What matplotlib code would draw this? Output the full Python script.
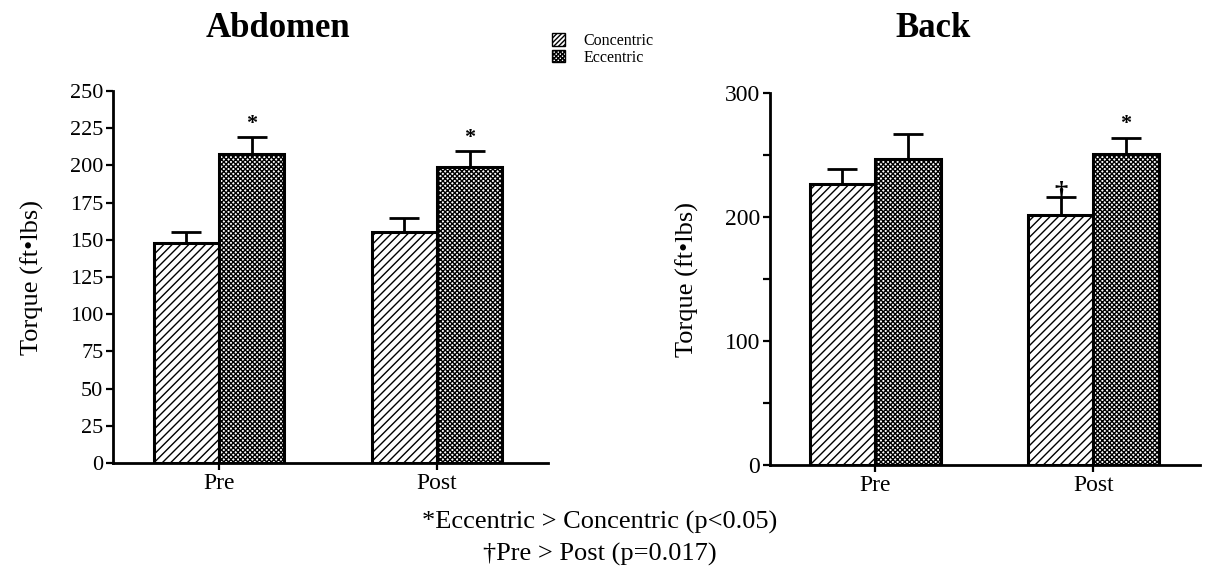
import matplotlib
matplotlib.use("Agg")
import matplotlib.pyplot as plt
import matplotlib.patches as mpatches
import numpy as np

plt.rcParams.update({
    "font.family": "Liberation Serif",
    "hatch.linewidth": 1.0,
})

# Data
phases = ["Pre", "Post"]
abd_conc = [148, 155]
abd_conc_err = [7, 10]
abd_ecc = [208, 199]
abd_ecc_err = [11, 11]
back_conc = [227, 202]
back_conc_err = [12, 14]
back_ecc = [247, 251]
back_ecc_err = [20, 13]

W = 0.3
CONC_HATCH = "////"
ECC_HATCH = "xxxxxxx"


def panel(ax, conc, conc_err, ecc, ecc_err, tick_size):
    x = np.arange(len(phases))
    ax.bar(x - W / 2, conc, W, color="white", edgecolor="black", hatch=CONC_HATCH,
           linewidth=2.2, zorder=3)
    ax.bar(x + W / 2, ecc, W, color="white", edgecolor="black", hatch=ECC_HATCH,
           linewidth=2.2, zorder=3)
    ax.errorbar(x - W / 2, conc, yerr=[np.zeros(len(conc)), conc_err], fmt="none",
                ecolor="black", elinewidth=2, capsize=11, capthick=2, zorder=2)
    ax.errorbar(x + W / 2, ecc, yerr=[np.zeros(len(ecc)), ecc_err], fmt="none",
                ecolor="black", elinewidth=2, capsize=11, capthick=2, zorder=2)
    ax.set_xticks(x)
    ax.set_xticklabels(phases, fontsize=17)
    for s in ("top", "right"):
        ax.spines[s].set_visible(False)
    for s in ("left", "bottom"):
        ax.spines[s].set_linewidth(2)
    ax.tick_params(axis="both", which="both", direction="out", length=5, width=1.6,
                   pad=2)
    ax.tick_params(axis="y", labelsize=tick_size)
    ax.set_ylabel("Torque (ft\u2022lbs)", fontsize=19, labelpad=19)
    return x


fig = plt.figure(figsize=(12.06, 5.82), dpi=100)

# Abdomen
ax1 = fig.add_axes([0.0937, 0.2045, 0.3607, 0.639])
x = panel(ax1, abd_conc, abd_conc_err, abd_ecc, abd_ecc_err, 16)
ax1.set_xlim(-0.486, 1.509)
ax1.set_ylim(0, 250)
ax1.set_yticks(np.arange(0, 251, 25))
for i in range(len(phases)):
    ax1.text(x[i] + W / 2, abd_ecc[i] + abd_ecc_err[i] + 2, "*", ha="center",
             va="bottom", fontsize=16, fontweight="bold")
fig.text(0.2305, 1 - 37 / 582, "Abdomen", ha="center", va="baseline", fontsize=25,
         fontweight="bold")

# Back
ax2 = fig.add_axes([0.6385, 0.201, 0.3566, 0.639])
x = panel(ax2, back_conc, back_conc_err, back_ecc, back_ecc_err, 17)
ax2.set_xlim(-0.482, 1.49)
ax2.set_ylim(0, 300)
ax2.set_yticks([0, 100, 200, 300])
ax2.set_yticks([50, 150, 250], minor=True)
ax2.text(x[1] + W / 2, back_ecc[1] + back_ecc_err[1] + 3, "*", ha="center",
         va="bottom", fontsize=16, fontweight="bold")
ax2.text(x[1] - W / 2, back_conc[1] + back_conc_err[1] - 5, "\u2020", ha="center",
         va="bottom", fontsize=19, fontweight="bold")
fig.text(0.7736, 1 - 37 / 582, "Back", ha="center", va="baseline", fontsize=25,
         fontweight="bold")

# Legend
handles = [mpatches.Patch(facecolor="white", edgecolor="black", hatch="///////", label="Concentric"),
           mpatches.Patch(facecolor="white", edgecolor="black", hatch="xxxxxxxx", label="Eccentric")]
fig.legend(handles=handles, loc="center left", bbox_to_anchor=(0.451, 0.915),
           frameon=False, fontsize=11.5, handlelength=0.8, handleheight=0.8,
           handletextpad=1.2, labelspacing=0.05, borderpad=0)

# Footnotes
fig.text(0.497, 0.103, "*Eccentric > Concentric (p<0.05)", ha="center", va="center",
         fontsize=19)
fig.text(0.497, 0.048, "\u2020Pre > Post (p=0.017)", ha="center", va="center",
         fontsize=19)

fig.savefig("out.png", dpi=100)
